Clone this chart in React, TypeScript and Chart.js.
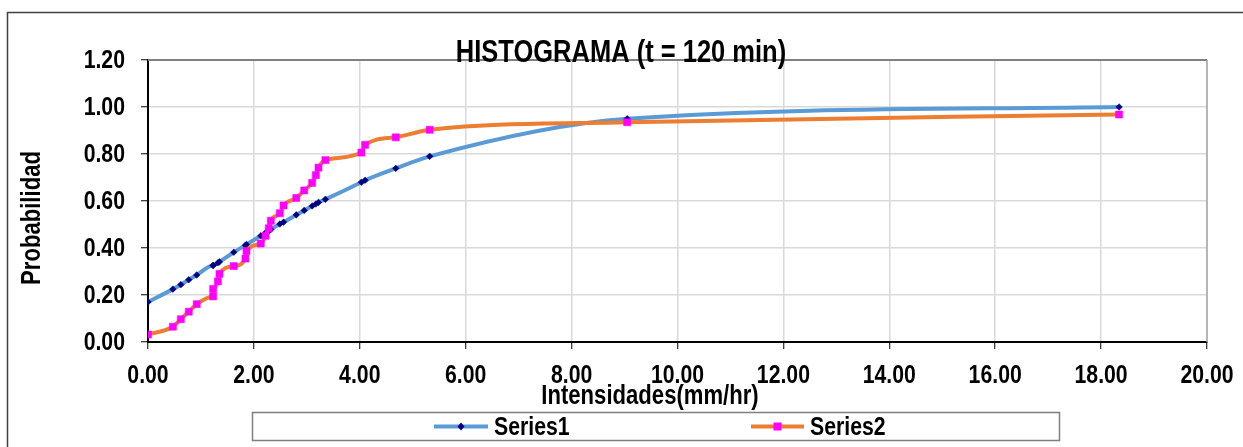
import React, { useEffect, useRef } from "react";
import { Chart, registerables } from "chart.js";

Chart.register(...registerables);

const xValues = [0.0, 0.47, 0.62, 0.77, 0.92, 1.23, 1.23, 1.32, 1.35, 1.62, 1.84, 1.86, 2.13, 2.22, 2.28, 2.32, 2.49, 2.56, 2.8, 2.95, 3.1, 3.17, 3.22, 3.35, 4.03, 4.1, 4.68, 5.32, 9.05, 18.34];
const series1 = [0.17, 0.225, 0.244, 0.265, 0.285, 0.326, 0.326, 0.337, 0.341, 0.382, 0.412, 0.415, 0.452, 0.465, 0.473, 0.479, 0.502, 0.51, 0.541, 0.56, 0.579, 0.587, 0.594, 0.607, 0.68, 0.688, 0.739, 0.79, 0.95, 1.0];
const series2 = [0.032, 0.065, 0.097, 0.129, 0.161, 0.194, 0.226, 0.258, 0.29, 0.323, 0.355, 0.387, 0.419, 0.452, 0.484, 0.516, 0.548, 0.581, 0.613, 0.645, 0.677, 0.71, 0.742, 0.774, 0.806, 0.839, 0.871, 0.903, 0.935, 0.968];
const seriesNames = ["Series1", "Series2"];
const chartTitle = "HISTOGRAMA (t = 120 min)";
const xTitle = "Intensidades(mm/hr)";
const yTitle = "Probabilidad";
const xMin = 0, xMax = 20, xStep = 2;
const yMin = 0, yMax = 1.2, yStep = 0.2;

const FONT = "'Liberation Sans', Arial, sans-serif";
const NARROW = 0.85;
const BLUE = "#5B9BD5";
const ORANGE = "#ED7D31";
const NAVY = "#000080";
const MAGENTA = "#FF00FF";

function narrowText(
  ctx: CanvasRenderingContext2D,
  text: string,
  x: number,
  y: number,
  size: number,
  align: CanvasTextAlign,
  baseline: CanvasTextBaseline,
  rotate = 0
) {
  ctx.save();
  ctx.translate(x, y);
  if (rotate) ctx.rotate(rotate);
  ctx.scale(NARROW, 1.04);
  ctx.font = `bold ${size}px ${FONT}`;
  ctx.textAlign = align;
  ctx.textBaseline = baseline;
  ctx.fillStyle = "#000";
  ctx.fillText(text, 0, 0);
  ctx.restore();
}

const decorPlugin = {
  id: "decor",
  afterDraw(chart: any) {
    const ctx = chart.ctx as CanvasRenderingContext2D;
    const ca = chart.chartArea;
    const xs = chart.scales.x;
    const ys = chart.scales.y;
    ctx.save();
    // plot border top/right
    ctx.strokeStyle = "#808080";
    ctx.lineWidth = 2;
    ctx.beginPath();
    ctx.moveTo(ca.left, ca.top);
    ctx.lineTo(ca.right, ca.top);
    ctx.stroke();
    ctx.strokeStyle = "#A6A6A6";
    ctx.lineWidth = 1.5;
    ctx.beginPath();
    ctx.moveTo(ca.right, ca.top);
    ctx.lineTo(ca.right, ca.bottom);
    ctx.stroke();

    // outer border
    ctx.strokeStyle = "#404040";
    ctx.lineWidth = 1.5;
    ctx.beginPath();
    ctx.moveTo(7.5, 460);
    ctx.lineTo(7.5, 12.5);
    ctx.lineTo(1260, 12.5);
    ctx.stroke();

    // tick labels
    for (let v = xMin; v <= xMax + 1e-9; v += xStep) {
      narrowText(ctx, v.toFixed(2), xs.getPixelForValue(v), 376, 25, "center", "middle");
    }
    for (let k = 0; k <= Math.round((yMax - yMin) / yStep); k++) {
      const v = yMin + k * yStep;
      narrowText(ctx, v.toFixed(2), 125, ys.getPixelForValue(v) + 1, 25, "right", "middle");
    }

    // title
    narrowText(ctx, chartTitle, 621, 62, 30, "center", "alphabetic");
    // x title
    narrowText(ctx, xTitle, 650, 397, 26, "center", "middle");
    // y title
    narrowText(ctx, yTitle, 33, 218, 26, "center", "middle", -Math.PI / 2);

    // legend box
    ctx.strokeStyle = "#7F7F7F";
    ctx.lineWidth = 1.5;
    ctx.strokeRect(252.5, 412.5, 807, 28);

    const ly = 426.5;
    const items = [
      { x0: 434, x1: 488, tx: 494, color: BLUE, marker: "diamond" },
      { x0: 751, x1: 804, tx: 810, color: ORANGE, marker: "square" },
    ];
    items.forEach((it, i) => {
      ctx.strokeStyle = it.color;
      ctx.lineWidth = 4;
      ctx.beginPath();
      ctx.moveTo(it.x0, ly);
      ctx.lineTo(it.x1, ly);
      ctx.stroke();
      const cx = (it.x0 + it.x1) / 2;
      if (it.marker === "diamond") {
        ctx.fillStyle = NAVY;
        ctx.beginPath();
        ctx.moveTo(cx, ly - 4);
        ctx.lineTo(cx + 3.5, ly);
        ctx.lineTo(cx, ly + 4);
        ctx.lineTo(cx - 3.5, ly);
        ctx.closePath();
        ctx.fill();
      } else {
        ctx.fillStyle = MAGENTA;
        ctx.fillRect(cx - 4, ly - 4, 8, 8);
      }
      narrowText(ctx, seriesNames[i], it.tx, ly + 1, 25, "left", "middle");
    });
    ctx.restore();
  },
};

export default function App() {
  const ref = useRef<HTMLCanvasElement | null>(null);
  useEffect(() => {
    if (!ref.current) return;
    const chart = new Chart(ref.current, {
      type: "line",
      data: {
        datasets: [
          {
            label: seriesNames[0],
            data: xValues.map((x, i) => ({ x, y: series1[i] })),
            borderColor: BLUE,
            borderWidth: 4,
            pointStyle: "rectRot",
            pointRadius: 3.3,
            pointBorderWidth: 0.5,
            pointBackgroundColor: NAVY,
            pointBorderColor: NAVY,
            cubicInterpolationMode: "monotone",
            order: 1,
          },
          {
            label: seriesNames[1],
            data: xValues.map((x, i) => ({ x, y: series2[i] })),
            borderColor: ORANGE,
            borderWidth: 4,
            pointStyle: "rect",
            pointRadius: 5,
            pointBorderWidth: 0.5,
            pointBackgroundColor: MAGENTA,
            pointBorderColor: MAGENTA,
            cubicInterpolationMode: "monotone",
            order: 0,
          },
        ],
      },
      options: {
        responsive: false,
        animation: false,
        layout: { padding: { left: 0, top: 60, right: 36, bottom: 0 } },
        plugins: {
          legend: { display: false },
          title: { display: false },
          tooltip: { enabled: false },
        },
        scales: {
          x: {
            type: "linear",
            min: xMin,
            max: xMax,
            afterFit: (s: any) => {
              s.height = 105;
            },
            ticks: { stepSize: xStep, display: false },
            grid: { color: "#D9D9D9", lineWidth: 1.5, tickLength: 7, tickColor: "#000", tickWidth: 1 },
            border: { color: "#000", width: 2 },
          },
          y: {
            type: "linear",
            min: yMin,
            max: yMax,
            afterFit: (s: any) => {
              s.width = 148;
            },
            ticks: { stepSize: yStep, display: false },
            grid: { color: "#D9D9D9", lineWidth: 1.5, tickLength: 7, tickColor: "#000", tickWidth: 1 },
            border: { color: "#000", width: 2 },
          },
        },
      },
      plugins: [decorPlugin],
    } as any);
    return () => chart.destroy();
  }, []);
  return (
    <div style={{ position: "absolute", left: 0, top: 0, width: 1243, height: 447, background: "#fff" }}>
      <canvas ref={ref} width={1243} height={447} style={{ display: "block" }} />
    </div>
  );
}
